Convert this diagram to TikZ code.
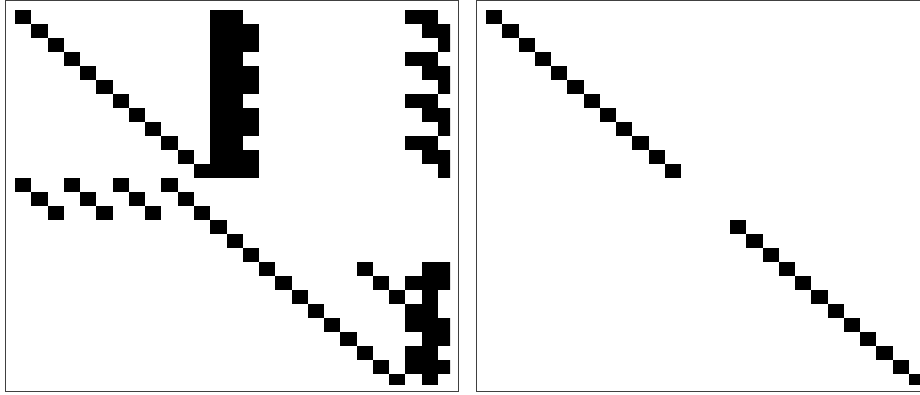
\documentclass[tikz,border=0pt]{standalone}
\begin{document}
\begin{tikzpicture}[x=1pt,y=-1pt,
  frame/.style={draw=black!75,line width=1pt},
  sq/.style={fill=black}]
\useasboundingbox (0,0) rectangle (920,395);
\def\cw{16.27}
\def\ch{14}
% ---------- left panel ----------
\begin{scope}
\clip (6,1) rectangle (450,384);
\def\ox{15}\def\oy{10}
% first diagonal
\foreach \r in {0,...,11}
  \fill[sq] ({\ox+\cw*\r},{\oy+\ch*\r}) rectangle ++(\cw,\ch);
% dense block cols 12-13
\fill[sq] ({\ox+\cw*12},{\oy}) rectangle ({\ox+\cw*14},{\oy+\ch*12});
% col 14 parts
\foreach \r in {1,4,7,10}
  \fill[sq] ({\ox+\cw*14},{\oy+\ch*\r}) rectangle ++(\cw,2*\ch);
% upper-right staircase
\foreach \k in {0,1,2,3}{
  \fill[sq] ({\ox+\cw*24},{\oy+\ch*(3*\k)}) rectangle ++(2*\cw,\ch);
  \fill[sq] ({\ox+\cw*25},{\oy+\ch*(3*\k+1)}) rectangle ++(2*\cw,\ch);
  \fill[sq] ({\ox+\cw*26},{\oy+\ch*(3*\k+2)}) rectangle ++(\cw,\ch);
}
% rows 12-14
\foreach \r/\c in {12/0,12/3,12/6,12/9,13/1,13/4,13/7,13/10,14/2,14/5,14/8,14/11}
  \fill[sq] ({\ox+\cw*\c},{\oy+\ch*\r}) rectangle ++(\cw,\ch);
% second diagonal
\foreach \r in {15,...,26}
  \fill[sq] ({\ox+\cw*(\r-3)},{\oy+\ch*\r}) rectangle ++(\cw,\ch);
% lower-right block
\foreach \r/\c in {18/21,18/25,18/26,19/22,19/24,19/25,19/26,20/23,20/25,
  21/24,21/25,22/24,22/25,22/26,23/25,23/26,24/24,24/25,25/24,25/25,25/26,26/25}
  \fill[sq] ({\ox+\cw*\c},{\oy+\ch*\r}) rectangle ++(\cw,\ch);
\end{scope}
\draw[frame] (5.7,1) rectangle (458.3,391.7);
% ---------- right panel ----------
\begin{scope}
\clip (477,1) rectangle (921,384);
\def\ox{486}\def\oy{10}
\foreach \r in {0,...,11,15,16,...,26}
  \fill[sq] ({\ox+\cw*\r},{\oy+\ch*\r}) rectangle ++(\cw,\ch);
\end{scope}
\draw[frame] (930,1) -- (476.7,1) -- (476.7,391.7) -- (930,391.7);
\end{tikzpicture}
\end{document}
